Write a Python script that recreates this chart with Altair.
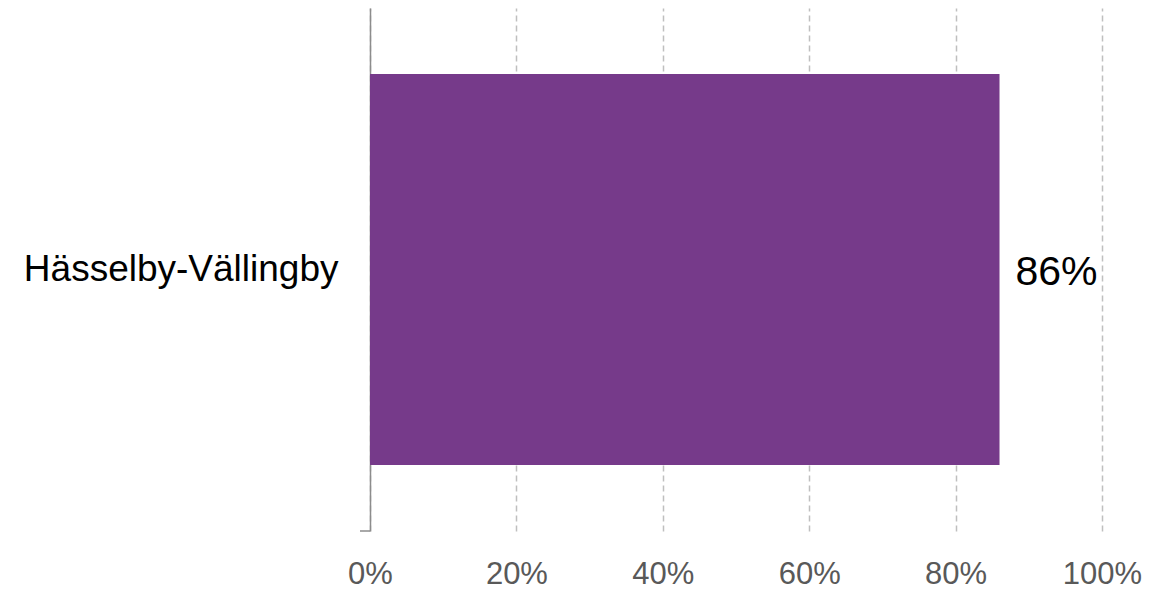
import altair as alt
import pandas as pd

categories = ["Hässelby-Vällingby"]
values = [0.86]
labels = ["86%"]

df = pd.DataFrame({"cat": categories, "val": values, "label": labels})

FONT = "Liberation Sans"

y_enc = alt.Y(
    "cat:N",
    title=None,
    scale=alt.Scale(paddingInner=0, paddingOuter=0.169),
    axis=alt.Axis(
        labelFont=FONT, labelFontSize=37, labelColor="#000000", labelLimit=0,
        labelPadding=32, ticks=False, domainColor="#8c8c8c", domainWidth=1.5,
    ),
)
x_enc = alt.X(
    "val:Q",
    title=None,
    scale=alt.Scale(domain=[0, 1], nice=False),
    axis=alt.Axis(
        format=".0%", values=[0, 0.2, 0.4, 0.6, 0.8, 1.0],
        labelFont=FONT, labelFontSize=31, labelColor="#595959", labelFlush=False,
        labelPadding=28, ticks=False, domain=False,
        grid=True, gridColor="#bfbfbf", gridDash=[6, 4], gridWidth=1.5,
    ),
)

bars = alt.Chart(df).mark_bar(color="#763a8a").encode(x=x_enc, y=y_enc)

text = alt.Chart(df).mark_text(
    align="left", baseline="middle", dx=16, dy=3, font=FONT, fontSize=41, color="#000000"
).encode(x="val:Q", y="cat:N", text="label:N")

tick = alt.Chart(df).mark_rule(color="#8c8c8c", strokeWidth=1.5).encode(
    x=alt.value(-10), x2=alt.value(0), y=alt.value(523)
)

chart = alt.layer(bars, text, tick).properties(
    width=732, height=523,
    autosize=alt.AutoSizeParams(type="none"),
    padding={"left": 362, "top": 0, "right": 51, "bottom": 60},
).configure_view(stroke=None)

chart.save("out.html", embed_options={"renderer": "svg", "actions": False})
